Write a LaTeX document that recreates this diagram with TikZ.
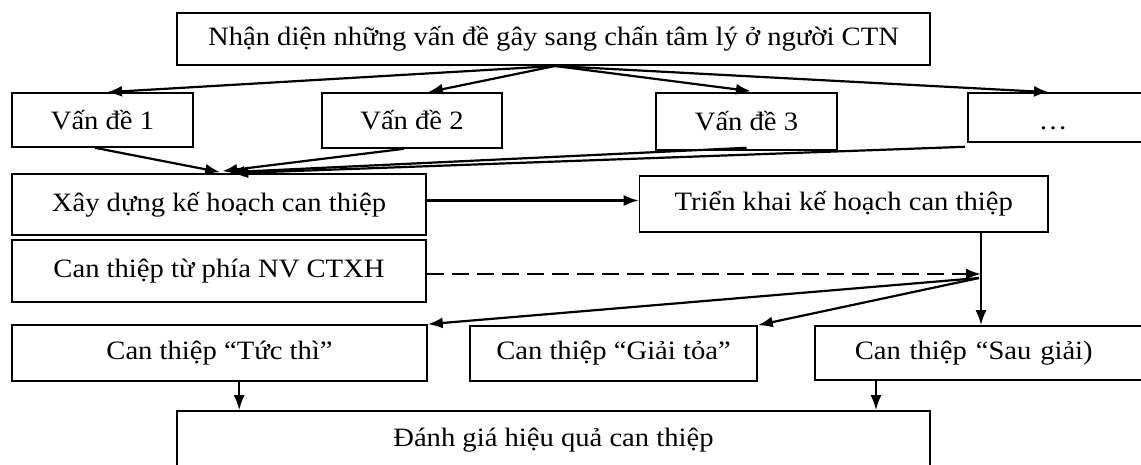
\documentclass[tikz,border=0pt]{standalone}
\usepackage{fontspec}
\setmainfont{Liberation Serif}[FakeStretch=1.08]
\usetikzlibrary{arrows.meta,calc}
\begin{document}
\begin{tikzpicture}[x=1pt,y=-1pt,
  box/.style={draw, line width=1.6pt, inner sep=0pt, font=\fontsize{26.5}{31}\selectfont},
  arr/.style={line width=2.2pt, -{Latex[length=15pt,width=11pt]}},
  dashline/.style={line width=2.2pt, dash pattern=on 17pt off 8pt, -{Latex[length=15pt,width=11pt]}}]
\useasboundingbox (0,0) rectangle (1141,464);
\clip (0,0) rectangle (1141,464);
% nodes
\node[box, minimum width=753pt, minimum height=52pt] (top) at (553.5,39) {Nhận diện những vấn đề gây sang chấn tâm lý ở người CTN};
\node[box, minimum width=181pt, minimum height=54pt] (v1) at (102.5,120) {Vấn đề 1};
\node[box, minimum width=180.5pt, minimum height=55pt] (v2) at (412,120.5) {Vấn đề 2};
\node[box, minimum width=181pt, minimum height=57pt] (v3) at (746.5,121.5) {Vấn đề 3};
\node[box, anchor=west, text height=36pt, text depth=13pt, text width=300pt, align=left, inner xsep=71pt] (dots) at (967,117.5) {…};
\node[box, minimum width=414pt, minimum height=61pt] (xd) at (219,204.5) {Xây dựng kế hoạch can thiệp};
\node[box, minimum width=408.5pt, minimum height=56pt] (tk) at (843.75,204) {Triển khai kế hoạch can thiệp};
\node[box, minimum width=414pt, minimum height=62pt] (nv) at (219,271) {Can thiệp từ phía NV CTXH};
\node[box, minimum width=415pt, minimum height=56pt] (tt) at (219.5,353) {Can thiệp “Tức thì”};
\node[box, minimum width=287pt, minimum height=55pt] (gt) at (613.5,353.5) {Can thiệp “Giải tỏa”};
\node[box, anchor=west, minimum height=54pt, text width=330pt, align=left, inner xsep=40pt] (sg) at (814,353) {Can thiệp “Sau giải)};
\node[box, minimum width=753pt, minimum height=58pt] (dg) at (553.5,440) {Đánh giá hiệu quả can thiệp};
% top fan-out
\coordinate (src) at (555,66);
\draw[arr] (src) -- ($(v1.north)+(4.5,0)$);
\draw[arr] (src) -- ($(v2.north)+(16,0)$);
\draw[arr] (src) -- ($(v3.north)+(4.5,-1)$);
\draw[arr] (src) -- ($(dots.north west)+(82,0)$);
% fan-in to planning
\draw[arr] ($(v1.south)+(-7.5,0)$) -- ($(xd.north west)+(209,-1)$);
\draw[arr] ($(v2.south)+(-8,0)$) -- ($(xd.north west)+(211,-2)$);
\draw[arr] ($(v3.south)+(0,-3)$) -- ($(xd.north west)+(218,-1)$);
\draw[arr] ($(dots.south west)+(-2,4)$) -- ($(xd.north west)+(222,0)$);
% planning -> implementation
\draw[arr] ($(xd.east)+(0,-4)$) -- ($(xd.east -| tk.west)+(0,-4)$);
% implementation branch
\coordinate (j) at (981,274);
\coordinate (js) at (979,278);
\draw[arr] (tk.south -| j) -- (sg.north -| j);
\draw[dashline] (nv.east |- j) -- (j);
\draw[arr] (js) -- (tt.north east);
\draw[arr] (js) -- (gt.north east);
% to evaluation
\coordinate (t1) at ($(tt.south west)+(228,0)$);
\coordinate (s1) at ($(sg.south west)+(62,0)$);
\draw[arr] (t1) -- (t1 |- dg.north);
\draw[arr] (s1) -- (s1 |- dg.north);
\end{tikzpicture}
\end{document}
